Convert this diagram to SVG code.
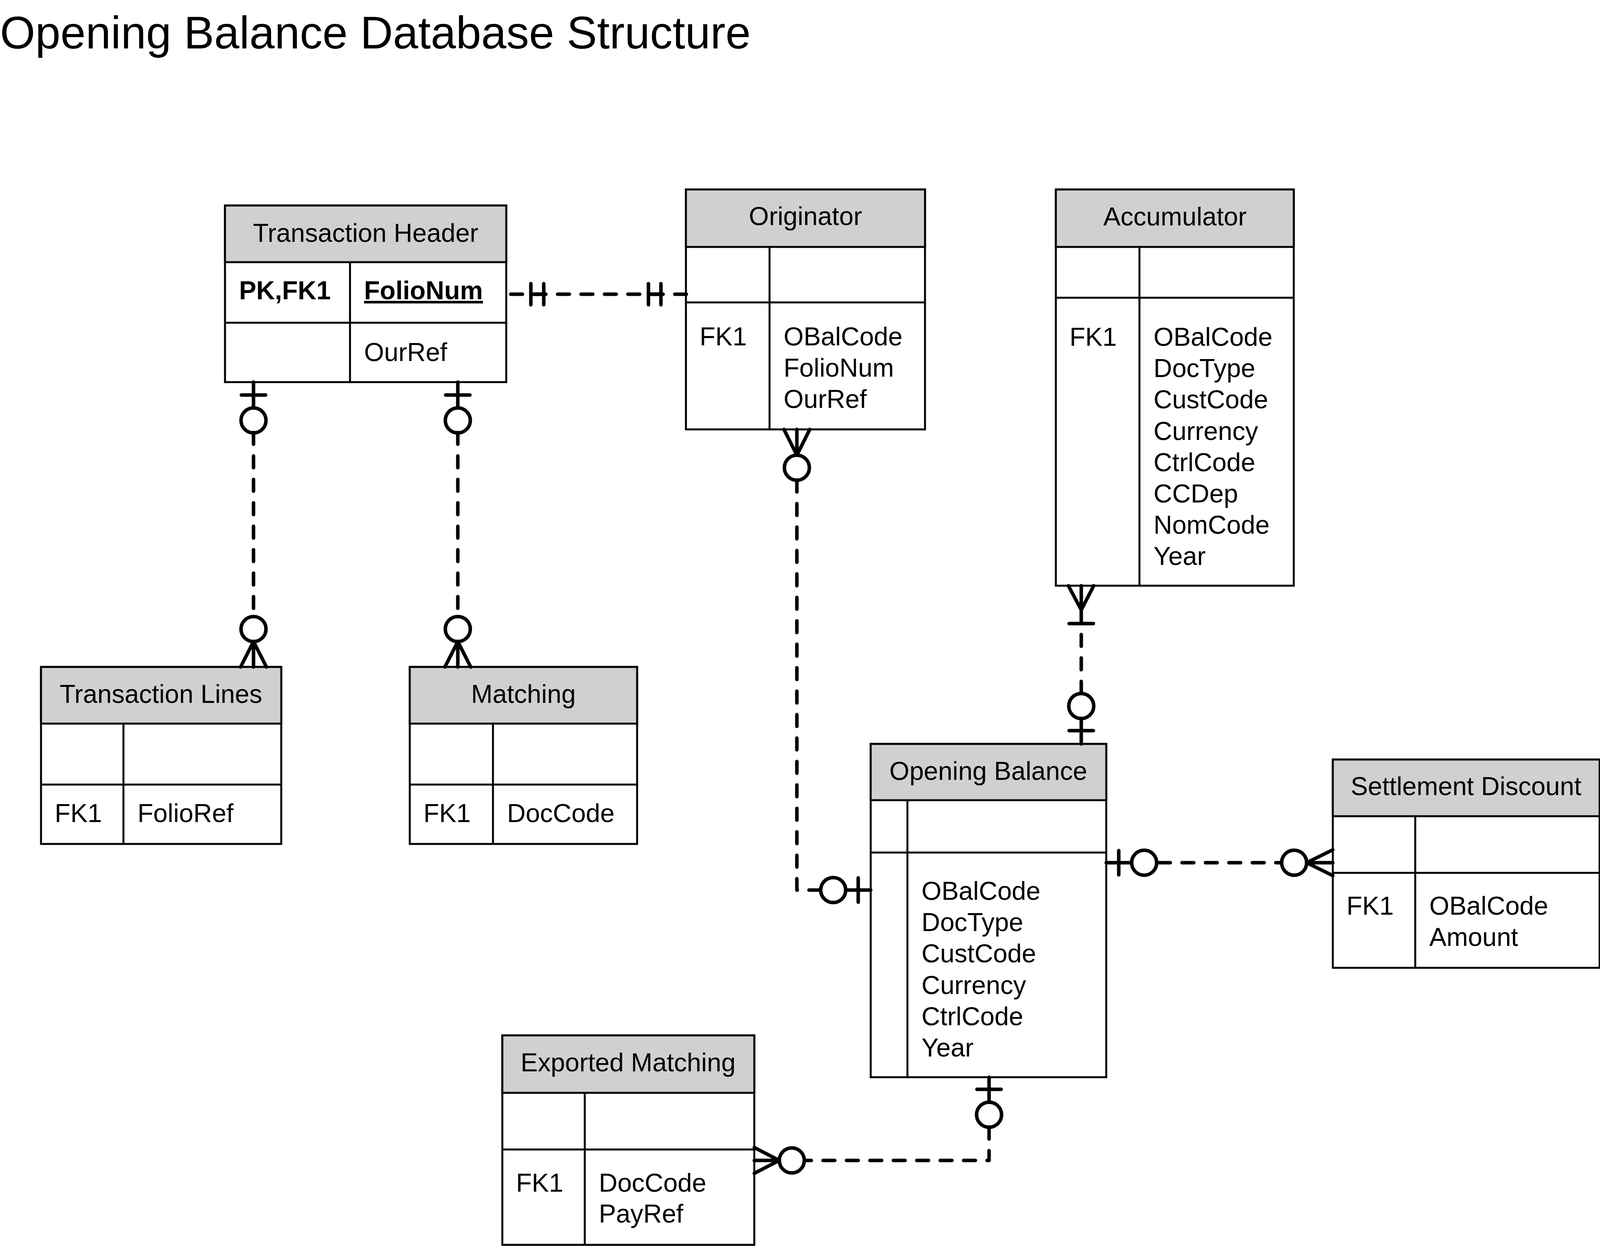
<svg xmlns="http://www.w3.org/2000/svg" width="4101" height="3189" viewBox="0 0 4101 3189">
<style>
.bg{fill:#fff;stroke:#000;stroke-width:5}
.hdr{fill:#d0d0d0;stroke:#000;stroke-width:5}
.ln{stroke:#000;stroke-width:5;fill:none}
.t{font-family:"Liberation Sans",Arial,Helvetica,sans-serif;font-size:66px;fill:#000}
.m{text-anchor:middle}
.b{font-weight:bold}
.u{text-decoration:underline}
.title{font-family:"Liberation Sans",Arial,Helvetica,sans-serif;font-size:116px;fill:#000}
.c{stroke:#000;stroke-width:9;fill:none;stroke-linecap:round;stroke-linejoin:round}
.d{stroke-dasharray:30 30}
.o{stroke:#000;stroke-width:9;fill:#fff}
</style>
<rect x="0" y="0" width="4101" height="3189" fill="#fff"/>
<text class="title" x="0" y="124">Opening Balance Database Structure</text>

<g id="transaction-header">
<rect class="bg" x="576" y="526" width="720" height="452"/>
<rect class="hdr" x="576" y="526" width="720" height="145"/>
<line class="ln" x1="576" y1="826" x2="1296" y2="826"/>
<line class="ln" x1="896" y1="671" x2="896" y2="978"/>
<text class="t m" x="936" y="619">Transaction Header</text>
<text class="t b" x="612" y="766">PK,FK1</text>
<text class="t b u" x="932" y="766">FolioNum</text>
<text class="t" x="932" y="924">OurRef</text>
</g>

<g id="originator">
<rect class="bg" x="1756" y="485" width="612" height="614"/>
<rect class="hdr" x="1756" y="485" width="612" height="147"/>
<line class="ln" x1="1756" y1="774" x2="2368" y2="774"/>
<line class="ln" x1="1970" y1="632" x2="1970" y2="1099"/>
<text class="t m" x="2062" y="576">Originator</text>
<text class="t" x="1791" y="884">FK1</text>
<text class="t" x="2006" y="884">OBalCode<tspan x="2006" dy="80">FolioNum</tspan><tspan x="2006" dy="80">OurRef</tspan></text>
</g>

<g id="accumulator">
<rect class="bg" x="2703" y="485" width="609" height="1014"/>
<rect class="hdr" x="2703" y="485" width="609" height="147"/>
<line class="ln" x1="2703" y1="762" x2="3312" y2="762"/>
<line class="ln" x1="2917" y1="632" x2="2917" y2="1499"/>
<text class="t m" x="3008" y="577">Accumulator</text>
<text class="t" x="2738" y="885">FK1</text>
<text class="t" x="2953" y="885">OBalCode<tspan x="2953" dy="80.2">DocType</tspan><tspan x="2953" dy="80.2">CustCode</tspan><tspan x="2953" dy="80.2">Currency</tspan><tspan x="2953" dy="80.2">CtrlCode</tspan><tspan x="2953" dy="80.2">CCDep</tspan><tspan x="2953" dy="80.2">NomCode</tspan><tspan x="2953" dy="80.2">Year</tspan></text>
</g>

<g id="transaction-lines">
<rect class="bg" x="105" y="1707" width="615" height="453"/>
<rect class="hdr" x="105" y="1707" width="615" height="145"/>
<line class="ln" x1="105" y1="2008" x2="720" y2="2008"/>
<line class="ln" x1="316" y1="1852" x2="316" y2="2160"/>
<text class="t m" x="412" y="1799">Transaction Lines</text>
<text class="t" x="140" y="2104">FK1</text>
<text class="t" x="352" y="2104">FolioRef</text>
</g>

<g id="matching">
<rect class="bg" x="1049" y="1707" width="582" height="453"/>
<rect class="hdr" x="1049" y="1707" width="582" height="145"/>
<line class="ln" x1="1049" y1="2008" x2="1631" y2="2008"/>
<line class="ln" x1="1262" y1="1852" x2="1262" y2="2160"/>
<text class="t m" x="1340" y="1799">Matching</text>
<text class="t" x="1084" y="2104">FK1</text>
<text class="t" x="1298" y="2104">DocCode</text>
</g>

<g id="opening-balance">
<rect class="bg" x="2229" y="1904" width="603" height="853"/>
<rect class="hdr" x="2229" y="1904" width="603" height="144"/>
<line class="ln" x1="2229" y1="2182" x2="2832" y2="2182"/>
<line class="ln" x1="2323" y1="2048" x2="2323" y2="2757"/>
<text class="t m" x="2530" y="1996">Opening Balance</text>
<text class="t" x="2359" y="2303">OBalCode<tspan x="2359" dy="80.2">DocType</tspan><tspan x="2359" dy="80.2">CustCode</tspan><tspan x="2359" dy="80.2">Currency</tspan><tspan x="2359" dy="80.2">CtrlCode</tspan><tspan x="2359" dy="80.2">Year</tspan></text>
</g>

<g id="settlement-discount">
<rect class="bg" x="3412" y="1944" width="683" height="533"/>
<rect class="hdr" x="3412" y="1944" width="683" height="145"/>
<line class="ln" x1="3412" y1="2234" x2="4095" y2="2234"/>
<line class="ln" x1="3623" y1="2089" x2="3623" y2="2477"/>
<text class="t m" x="3753" y="2035">Settlement Discount</text>
<text class="t" x="3447" y="2341">FK1</text>
<text class="t" x="3659" y="2341">OBalCode<tspan x="3659" dy="80">Amount</tspan></text>
</g>

<g id="exported-matching">
<rect class="bg" x="1286" y="2650" width="645" height="536"/>
<rect class="hdr" x="1286" y="2650" width="645" height="147"/>
<line class="ln" x1="1286" y1="2942" x2="1931" y2="2942"/>
<line class="ln" x1="1497" y1="2797" x2="1497" y2="3186"/>
<text class="t m" x="1608" y="2742">Exported Matching</text>
<text class="t" x="1321" y="3050">FK1</text>
<text class="t" x="1533" y="3050">DocCode<tspan x="1533" dy="79">PayRef</tspan></text>
</g>

<g id="connectors">
<path class="c d" d="M1307.5 753 H1757"/>
<path class="c" d="M1359 753 H1396 M1359 726 V780 M1392 726 V780"/>
<path class="c" d="M1660 753 H1697 M1660 726 V780 M1692 726 V780"/>

<path class="c" d="M649 978 V1044 M618 1011 H680"/>
<circle class="o" cx="649" cy="1076" r="32"/>
<path class="c d" d="M649 1107 V1578"/>
<circle class="o" cx="649" cy="1610" r="32"/>
<path class="c" d="M649 1642 L616 1707 M649 1642 V1707 M649 1642 L682 1707"/>

<path class="c" d="M1172 978 V1044 M1141 1011 H1203"/>
<circle class="o" cx="1172" cy="1076" r="32"/>
<path class="c d" d="M1172 1107 V1578"/>
<circle class="o" cx="1172" cy="1610" r="32"/>
<path class="c" d="M1172 1642 L1139 1707 M1172 1642 V1707 M1172 1642 L1205 1707"/>

<path class="c" d="M2007 1099 L2040 1165 L2073 1099 M2040 1099 V1165"/>
<circle class="o" cx="2040" cy="1197" r="32"/>
<path class="c d" d="M2040 1229 V2278 H2101"/>
<circle class="o" cx="2133" cy="2278" r="32"/>
<path class="c" d="M2165 2278 H2229 M2197 2247 V2309"/>

<path class="c" d="M2735 1499 L2768 1561 L2800 1499 M2768 1499 V1596 M2737 1596 H2799"/>
<path class="c d" d="M2768 1624 V1775"/>
<circle class="o" cx="2768" cy="1807" r="32"/>
<path class="c" d="M2768 1839 V1904 M2737 1870 H2799"/>

<path class="c" d="M2832 2208 H2897 M2864 2177 V2239"/>
<circle class="o" cx="2929" cy="2208" r="32"/>
<path class="c d" d="M2966 2208 H3281"/>
<circle class="o" cx="3313" cy="2208" r="32"/>
<path class="c" d="M3412 2175 L3345 2208 L3412 2241 M3345 2208 H3412"/>

<path class="c" d="M2532 2757 V2821 M2501 2788 H2563"/>
<circle class="o" cx="2532" cy="2853" r="32"/>
<path class="c d" d="M2532 2885 V2970 H2059"/>
<circle class="o" cx="2027" cy="2970" r="32"/>
<path class="c" d="M1931 2937 L1995 2970 L1931 3003 M1995 2970 H1931"/>
</g>
</svg>
